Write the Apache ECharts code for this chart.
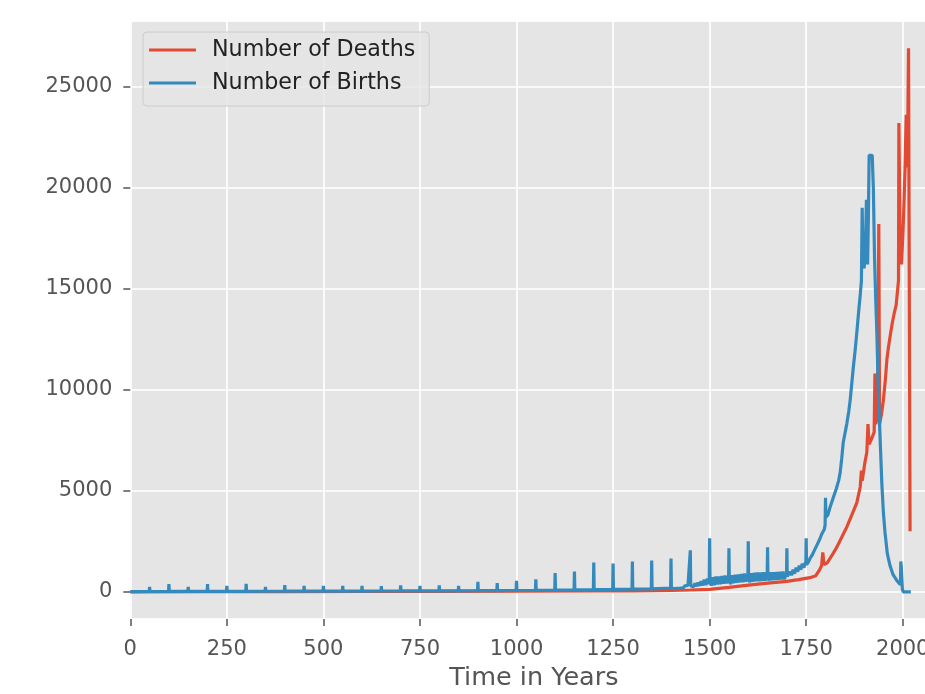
<!DOCTYPE html>
<html>
<head>
<meta charset="utf-8">
<script src="https://cdn.jsdelivr.net/npm/echarts@6/dist/echarts.min.js"></script>
<style>
html,body{margin:0;padding:0;background:#fff;}
#chart{width:925px;height:694px;}
</style>
</head>
<body>
<div id="chart"></div>
<script>
// ---- data ----
const seriesNames = ['Number of Deaths', 'Number of Births'];
const xTicks = [0, 250, 500, 750, 1000, 1250, 1500, 1750, 2000];
const yTicks = [0, 5000, 10000, 15000, 20000, 25000];

const deaths = [
[0,0],[200,5],[400,10],[600,15],[800,20],[1000,30],[1200,40],[1300,50],[1400,70],[1450,90],
[1500,120],[1550,220],[1600,330],[1650,430],[1700,520],[1730,600],[1760,700],[1775,800],
[1785,1100],[1790,1300],[1793,1950],[1796,1350],[1805,1450],[1815,1750],[1829,2200],[1842,2700],
[1855,3200],[1868,3800],[1881,4400],[1890,5200],[1893,6000],[1895,5500],[1902,6400],[1907,6900],
[1910,8300],[1913,7300],[1920,7600],[1926,7900],[1928,10800],[1930,8300],[1935,8800],[1938,18200],
[1940,8300],[1945,8800],[1950,9500],[1955,10500],[1959,11500],[1963,12100],[1967,12600],[1972,13200],
[1977,13700],[1983,14200],[1989,15400],[1990,23200],[1993,17500],[1997,16200],[2002,18500],
[2006,21000],[2009,23600],[2012,21000],[2015,26900],[2017,26900],[2019,3000]
];

const births = [
[0,10],[49,15],[50,250],[51,15],[99,18],[100,380],[101,18],[149,20],[150,250],[151,20],
[199,22],[200,380],[201,22],[249,25],[250,300],[251,25],[299,25],[300,400],[301,25],
[349,28],[350,250],[351,28],[399,30],[400,330],[401,30],[449,30],[450,300],[451,30],
[499,32],[500,300],[501,32],[549,35],[550,300],[551,35],[599,38],[600,300],[601,38],
[649,40],[650,280],[651,40],[699,42],[700,320],[701,42],[749,45],[750,300],[751,45],
[799,48],[800,320],[801,48],[849,50],[850,300],[851,50],[899,55],[900,500],[901,55],
[949,60],[950,430],[951,60],[999,65],[1000,540],[1001,65],[1049,75],[1050,620],[1051,75],
[1099,85],[1100,930],[1101,85],[1149,95],[1150,1000],[1151,95],[1199,105],[1200,1450],[1201,105],
[1249,120],[1250,1400],[1251,120],[1299,135],[1300,1500],[1301,135],[1349,150],[1350,1550],[1351,150],
[1399,180],[1400,1650],[1401,180],
[1404,200],[1408,160],[1412,220],[1416,170],[1420,240],[1424,180],[1428,260],[1432,200],[1436,300],
[1440,210],[1444,320],[1448,230],[1449,280],[1450,2050],[1451,300],
[1454,380],[1458,250],[1462,420],[1466,280],[1470,460],[1474,300],[1478,520],[1482,320],[1486,600],
[1490,330],[1494,650],[1498,380],[1499,500],[1500,2650],[1501,600],
[1504,300],[1508,720],[1512,330],[1516,750],[1520,360],[1524,760],[1528,380],[1532,780],[1536,400],
[1540,800],[1544,420],[1548,780],[1549,550],[1550,2150],[1551,560],
[1554,380],[1558,820],[1562,430],[1566,840],[1570,450],[1574,860],[1578,470],[1582,880],[1586,480],
[1590,900],[1594,500],[1598,880],[1599,640],[1600,2500],[1601,650],
[1604,470],[1608,920],[1612,500],[1616,940],[1620,520],[1624,950],[1628,530],[1632,960],[1636,540],
[1640,970],[1644,550],[1648,950],[1649,700],[1650,2200],[1651,700],
[1654,560],[1658,960],[1662,580],[1666,970],[1670,590],[1674,980],[1678,600],[1682,990],[1686,610],
[1690,1000],[1694,620],[1698,950],[1699,740],[1700,2150],[1701,760],
[1704,700],[1708,1000],[1712,820],[1716,1100],[1720,900],[1724,1200],[1728,1000],[1732,1300],
[1736,1100],[1740,1400],[1744,1200],[1748,1450],[1749,1300],[1750,2650],[1751,1350],
[1755,1450],[1760,1650],[1765,1800],[1770,2000],[1775,2200],[1780,2400],[1785,2600],[1790,2850],
[1797,3100],[1799,3300],[1800,4650],[1801,3700],[1806,3800],[1812,4200],[1820,4650],[1828,5100],
[1834,5500],[1838,5900],[1842,6600],[1846,7400],[1850,7800],[1855,8300],[1860,8900],[1864,9500],
[1868,10300],[1872,11100],[1877,12000],[1881,12800],[1886,13900],[1890,14700],[1893,15400],
[1895,19000],[1897,16400],[1900,16000],[1902,16600],[1904,17500],[1906,19400],[1909,16200],
[1911,18500],[1913,21600],[1921,21600],[1924,19900],[1927,16500],[1930,14500],[1933,12800],
[1937,9800],[1941,7800],[1946,5300],[1950,3900],[1954,2950],[1960,1900],[1967,1300],[1975,850],
[1985,550],[1994,350],[1995,1500],[1996,1300],[1999,150],[2001,0],[2021,0]
];

// ---- chart ----
const chart = echarts.init(document.getElementById('chart'), null, {renderer: 'canvas'});
const FONT = 'DejaVu Sans';
chart.setOption({
  animation: false,
  backgroundColor: '#ffffff',
  textStyle: {fontFamily: FONT},
  grid: {
    left: 130.3, right: -12.5, top: 21, bottom: 75,
    show: true, backgroundColor: '#E5E5E5', borderColor: '#ffffff', borderWidth: 1,
    containLabel: false, outerBoundsMode: 'none'
  },
  legend: {
    data: seriesNames,
    orient: 'vertical',
    left: 143, top: 32,
    icon: 'rect',
    itemWidth: 47, itemHeight: 3,
    itemGap: 11,
    padding: [7, 14, 12, 6],
    backgroundColor: 'rgba(229,229,229,0.8)',
    borderColor: '#cccccc', borderWidth: 1, borderRadius: 4,
    textStyle: {fontFamily: FONT, fontSize: 22.2, color: '#222222', padding: [0, 0, 0, 11]}
  },
  xAxis: {
    type: 'value', min: 0, max: 2090, interval: 250,
    name: 'Time in Years', nameLocation: 'middle', nameGap: 46,
    nameTextStyle: {fontFamily: FONT, fontSize: 25.5, color: '#555555'},
    axisLine: {show: false, onZero: false},
    axisTick: {show: true, length: 7, lineStyle: {color: '#555555', width: 1.5}},
    axisLabel: {fontFamily: FONT, fontSize: 21, color: '#555555', margin: 20,
      showMaxLabel: false, formatter: v => String(v)},
    splitLine: {show: true, lineStyle: {color: '#ffffff', width: 1.7}}
  },
  yAxis: {
    type: 'value', min: -1345, max: 28245,
    axisLine: {show: false, onZero: false},
    axisTick: {show: true, length: 7, lineStyle: {color: '#555555', width: 1.5}},
    axisLabel: {fontFamily: FONT, fontSize: 21, color: '#555555', margin: 18,
      showMinLabel: false, showMaxLabel: false, formatter: v => String(v)},
    splitLine: {show: true, lineStyle: {color: '#ffffff', width: 1.7}}
  },
  series: [
    {name: seriesNames[0], type: 'line', data: deaths, showSymbol: false, symbol: 'none',
     lineStyle: {color: '#E24A33', width: 3.2}, itemStyle: {color: '#E24A33'}, z: 2},
    {name: seriesNames[1], type: 'line', data: births, showSymbol: false, symbol: 'none',
     lineStyle: {color: '#348ABD', width: 3.2}, itemStyle: {color: '#348ABD'}, z: 3}
  ]
});
</script>
</body>
</html>
